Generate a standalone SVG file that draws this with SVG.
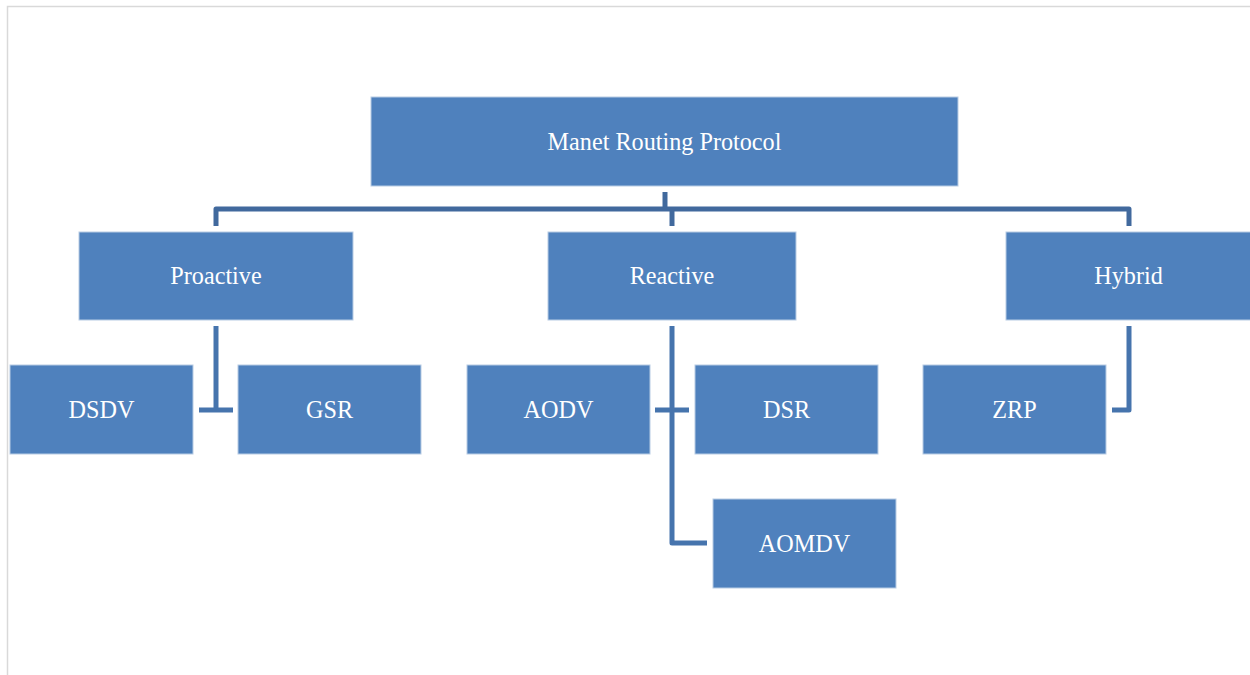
<svg xmlns="http://www.w3.org/2000/svg" width="1250" height="675" viewBox="0 0 1250 675">
  <style>
    .box { fill: #4f81bd; stroke: #b8cce4; stroke-width: 1; }
    .lbl { font-family: "Liberation Serif", "Times New Roman", serif; font-size: 24.2px; fill: #ffffff; text-anchor: middle; }
    .trunk { fill: none; stroke: #41699d; stroke-width: 5; stroke-linejoin: round; }
    .branch { fill: none; stroke: #4674ad; stroke-width: 5; stroke-linejoin: round; }
  </style>
  <rect x="0" y="0" width="1250" height="675" fill="#ffffff"/>
  <!-- page frame -->
  <path d="M7.5 675 V6.5 H1250" fill="none" stroke="#d9d9d9" stroke-width="1.5"/>

  <g id="connectors">
    <path class="trunk" d="M665 192 V209"/>
    <path class="trunk" d="M216 226 V209 H1129 V226"/>
    <path class="trunk" d="M672 209 V226"/>
    <path class="branch" d="M216 326 V410"/>
    <path class="branch" d="M199 410 H233"/>
    <path class="branch" d="M672 326 V543 H707"/>
    <path class="branch" d="M655 410 H689"/>
    <path class="branch" d="M1129 326 V410 H1112"/>
  </g>

  <g id="manet">
    <rect class="box" x="371" y="97" width="587" height="89"/>
    <text class="lbl" x="664.5" y="150">Manet Routing Protocol</text>
  </g>
  <g id="proactive">
    <rect class="box" x="79" y="232" width="274" height="88"/>
    <text class="lbl" x="216" y="284">Proactive</text>
  </g>
  <g id="reactive">
    <rect class="box" x="548" y="232" width="248" height="88"/>
    <text class="lbl" x="672" y="284">Reactive</text>
  </g>
  <g id="hybrid">
    <rect class="box" x="1006" y="232" width="250" height="88"/>
    <text class="lbl" x="1128.5" y="284">Hybrid</text>
  </g>
  <g id="dsdv">
    <rect class="box" x="10" y="365" width="183" height="89"/>
    <text class="lbl" x="101.5" y="418">DSDV</text>
  </g>
  <g id="gsr">
    <rect class="box" x="238" y="365" width="183" height="89"/>
    <text class="lbl" x="329.5" y="418">GSR</text>
  </g>
  <g id="aodv">
    <rect class="box" x="467" y="365" width="183" height="89"/>
    <text class="lbl" x="558.5" y="418">AODV</text>
  </g>
  <g id="dsr">
    <rect class="box" x="695" y="365" width="183" height="89"/>
    <text class="lbl" x="786.5" y="418">DSR</text>
  </g>
  <g id="zrp">
    <rect class="box" x="923" y="365" width="183" height="89"/>
    <text class="lbl" x="1014.5" y="418">ZRP</text>
  </g>
  <g id="aomdv">
    <rect class="box" x="713" y="499" width="183" height="89"/>
    <text class="lbl" x="804.5" y="552">AOMDV</text>
  </g>
</svg>
